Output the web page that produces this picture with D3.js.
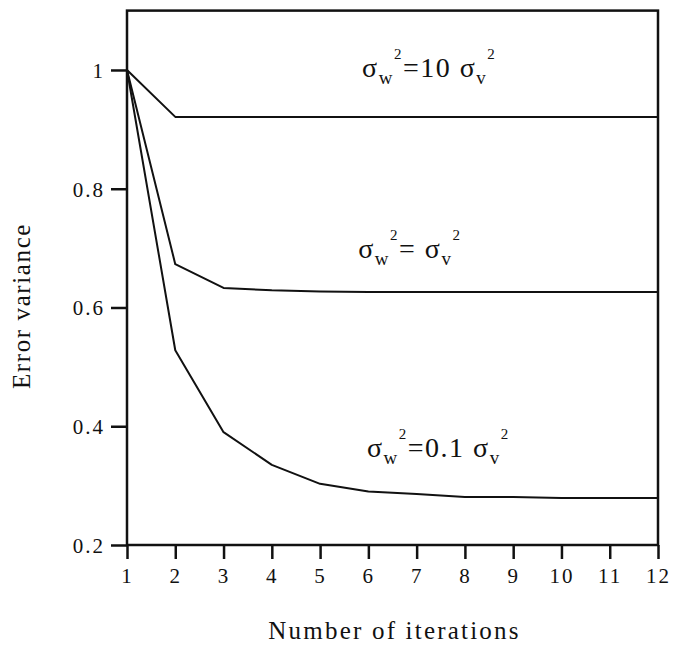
<!DOCTYPE html>
<html>
<head>
<meta charset="utf-8">
<script src="https://cdn.jsdelivr.net/npm/d3@7"></script>
<style>
  body { margin: 0; background: #fff; }
  svg text { font-family: "Liberation Serif", "Times New Roman", serif; fill: #111; }
</style>
</head>
<body>
<svg id="chart" width="675" height="653"></svg>
<script>
// values
const iterations = [1, 2, 3, 4, 5, 6, 7, 8, 9, 10, 11, 12];
const ratio10 = [1, 0.921, 0.921, 0.921, 0.921, 0.921, 0.921, 0.921, 0.921, 0.921, 0.921, 0.921];
const ratio1 = [1, 0.673, 0.633, 0.629, 0.627, 0.626, 0.626, 0.626, 0.626, 0.626, 0.626, 0.626];
const ratio01 = [1, 0.528, 0.390, 0.335, 0.303, 0.290, 0.286, 0.281, 0.281, 0.279, 0.279, 0.279];
const yTicks = [0.2, 0.4, 0.6, 0.8, 1];
const xLabel = "Number of iterations";
const yLabel = "Error variance";

// curve labels: pieces of σw²=k σv²
const labelText = [
	[["σ", 0], ["w", 1], ["2", 2], ["=10 σ", 0], ["v", 1], ["2", 2]],
	[["σ", 0], ["w", 1], ["2", 2], ["= σ", 0], ["v", 1], ["2", 2]],
	[["σ", 0], ["w", 1], ["2", 2], ["=0.1  σ", 0], ["v", 1], ["2", 2]]
];
const labelAt = [[5.87, 0.988], [5.79, 0.683], [5.97, 0.348]];

const svg = d3.select("svg#chart");
const margin = { top: 10.6, left: 127, right: 17, bottom: 108 };
const chartWidth = 675 - margin.left - margin.right;
const chartHeight = 653 - margin.top - margin.bottom;

const chartArea = svg.append("g")
	.attr("transform", `translate(${margin.left},${margin.top})`);

const xScale = d3.scaleLinear([1, 12], [0, chartWidth]);
const yScale = d3.scaleLinear([0.2, 1.1], [chartHeight, 0]);

// frame
chartArea.append("rect")
	.attr("x", 0).attr("y", 0)
	.attr("width", chartWidth).attr("height", chartHeight)
	.attr("fill", "none")
	.attr("stroke", "#111")
	.attr("stroke-width", 2.5);

const xAxis = d3.axisBottom(xScale)
	.tickValues(iterations)
	.tickFormat(d3.format("d"))
	.tickSize(14)
	.tickSizeOuter(0)
	.tickPadding(6);
const gx = chartArea.append("g")
	.attr("transform", `translate(0,${chartHeight})`)
	.call(xAxis);

const yAxis = d3.axisLeft(yScale)
	.tickValues(yTicks)
	.tickFormat((d) => (d === 1 ? "1" : d.toFixed(1)))
	.tickSize(16)
	.tickSizeOuter(0)
	.tickPadding(6);
const gy = chartArea.append("g").call(yAxis);

[gx, gy].forEach((g) => {
	g.select(".domain").remove();
	g.selectAll(".tick line").attr("stroke", "#111").attr("stroke-width", 2.5);
	g.selectAll(".tick text")
		.attr("font-family", "Liberation Serif")
		.attr("font-size", 21)
		.attr("letter-spacing", 2)
		.attr("fill", "#111");
});
gx.selectAll(".tick text").attr("dy", "0.85em");
gy.selectAll(".tick text").attr("dy", "0.35em");

// curves
const line = d3.line()
	.x((d, i) => xScale(iterations[i]))
	.y((d) => yScale(d));

chartArea.selectAll("path.curve")
	.data([ratio10, ratio1, ratio01])
	.enter()
	.append("path")
	.attr("class", "curve")
	.attr("d", line)
	.attr("fill", "none")
	.attr("stroke", "#111")
	.attr("stroke-width", 2)
	.attr("stroke-linejoin", "round");

// curve labels
const sizes = [28, 19, 15];
const shift = [0, 7, -18];
labelText.forEach((parts, k) => {
	const t = chartArea.append("text")
		.attr("x", xScale(labelAt[k][0]))
		.attr("y", yScale(labelAt[k][1]))
		.attr("letter-spacing", 1.5);
	let prev = 0;
	parts.forEach(([s, kind]) => {
		t.append("tspan")
			.attr("font-size", sizes[kind])
			.attr("dy", shift[kind] - prev)
			.text(s);
		prev = shift[kind];
	});
});

// axis titles
svg.append("text")
	.attr("x", margin.left + chartWidth / 2 + 2)
	.attr("y", 639)
	.attr("text-anchor", "middle")
	.attr("font-size", 25)
	.attr("letter-spacing", 2.2)
	.text(xLabel);

svg.append("text")
	.attr("transform", `translate(30,306) rotate(-90)`)
	.attr("text-anchor", "middle")
	.attr("font-size", 25)
	.attr("letter-spacing", 1.6)
	.text(yLabel);
</script>
</body>
</html>
